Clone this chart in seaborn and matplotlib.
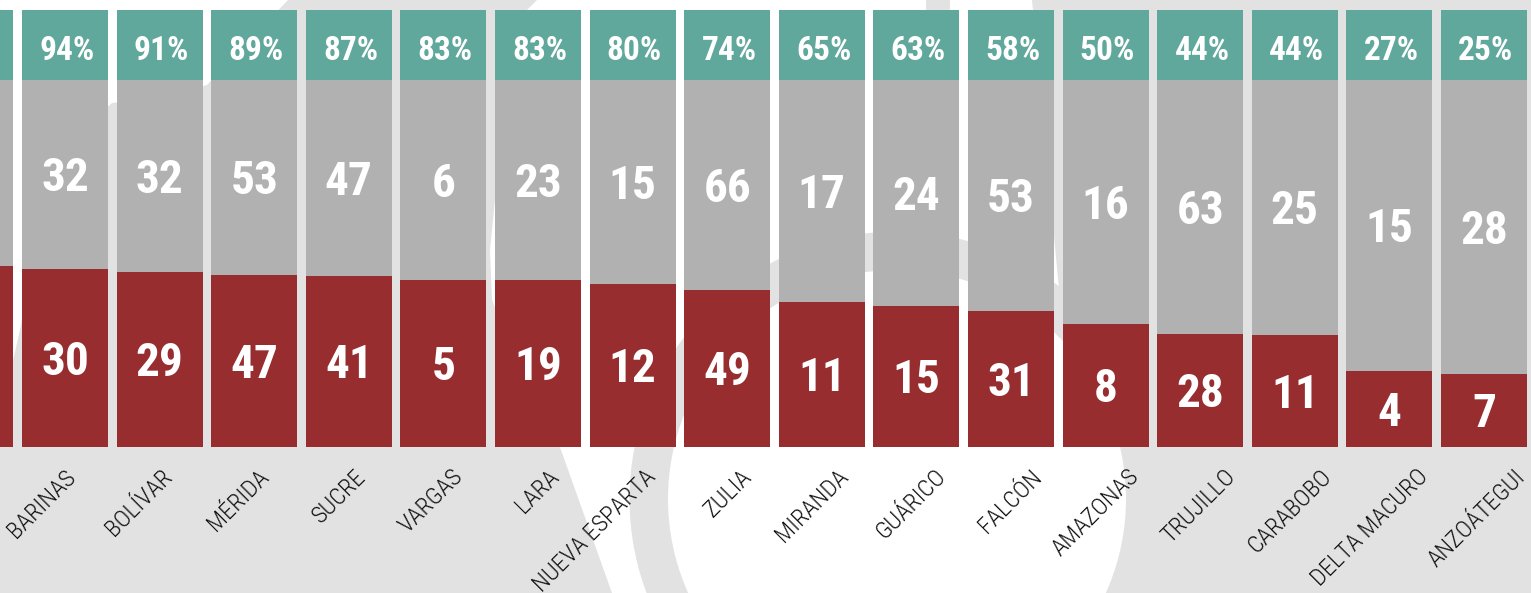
import matplotlib
matplotlib.use('Agg')
import matplotlib.pyplot as plt
import matplotlib.patches as mpatches
import pandas as pd
import seaborn as sns

# Datos (el primer estado queda cortado en el borde izquierdo)
estados = ["", "BARINAS", "BOLÍVAR", "MÉRIDA", "SUCRE", "VARGAS", "LARA",
           "NUEVA ESPARTA", "ZULIA", "MIRANDA", "GUÁRICO", "FALCÓN",
           "AMAZONAS", "TRUJILLO", "CARABOBO", "DELTA MACURO", "ANZOÁTEGUI"]
porcentaje = [None, 94, 91, 89, 87, 83, 83, 80, 74, 65, 63, 58, 50, 44, 44, 27, 25]
total = [None, 32, 32, 53, 47, 6, 23, 15, 66, 17, 24, 53, 16, 63, 25, 15, 28]
rojo = [None, 30, 29, 47, 41, 5, 19, 12, 49, 11, 15, 31, 8, 28, 11, 4, 7]
# altura de la parte roja, en % de la barra
altura_roja = [49.2, 48.6, 47.6, 46.9, 46.7, 45.6, 45.6, 44.5, 42.7,
               39.6, 38.5, 37.1, 33.6, 30.9, 30.6, 20.8, 20.0]

VERDE = '#60a79c'
GRIS = '#b1b1b1'
ROJO = '#972d2f'
FONDO = '#e2e2e2'

df = pd.DataFrame({'estado': estados, 'altura_roja': altura_roja})
df['gris'] = 100
df['cabecera'] = 119.1

sns.set_style('white')
plt.rcParams['font.family'] = ['Roboto Condensed', 'Barlow Condensed',
                               'Archivo Narrow', 'DejaVu Sans']

fig = plt.figure(figsize=(15.31, 5.93), dpi=100)
fig.patch.set_facecolor(FONDO)

# -------------------------
# Fondo decorativo (coordenadas en pixeles)
# -------------------------
bg = fig.add_axes([0, 0, 1, 1])
bg.set_xlim(0, 1531)
bg.set_ylim(593, 0)
bg.axis('off')
bg.add_patch(mpatches.Polygon(
    [(0, 0), (288, 0), (250, 40), (207, 85), (160, 98), (112, 103), (70, 140),
     (40, 220), (20, 330), (12, 365), (0, 380)], color='white', lw=0))
bg.add_patch(mpatches.Polygon(
    [(537, 0), (926, 0), (926, 12), (950, 12), (950, 0), (1032, 0), (1060, 300),
     (1060, 593), (612, 593), (561, 450), (520, 370), (492, 300), (490, 250),
     (500, 150), (518, 50), (527, 10)], color='white', lw=0))
bg.add_patch(mpatches.Circle((897, 499), 267.5, color=FONDO, lw=0))
bg.add_patch(mpatches.Circle((897, 499), 229, color='white', lw=0))

# -------------------------
# Barras
# -------------------------
ax = fig.add_axes([0, 0, 1, 1])
ax.patch.set_alpha(0)
for col, color in [('cabecera', VERDE), ('gris', GRIS), ('altura_roja', ROJO)]:
    sns.barplot(data=df, x='estado', y=col, color=color, width=0.909,
                saturation=1, errorbar=None, linewidth=0, ax=ax)

for i, est in enumerate(estados):
    if porcentaje[i] is None:
        continue
    h = altura_roja[i]
    ax.text(i + 0.02, 105.4, f'{porcentaje[i]}%', ha='center', va='baseline',
            color='white', fontsize=24, fontweight='bold')
    ax.text(i, (100 + h) / 2 - 4.6, str(total[i]), ha='center', va='baseline',
            color='white', fontsize=34, fontweight='bold')
    ax.text(i, h / 2 - 4.6, str(rojo[i]), ha='center', va='baseline',
            color='white', fontsize=34, fontweight='bold')
    ax.text(i + (12 + 2.0 * (i - 1)) / 94.6, -8.4, est, rotation=45,
            rotation_mode='anchor', ha='right', va='baseline',
            color='#111111', fontsize=17.5, fontweight='light')

ax.set_xlim(0.313, 16.497)
ax.set_ylim(-39.8, 121.8)
ax.axis('off')

fig.savefig('out.png', dpi=100, facecolor=FONDO)
